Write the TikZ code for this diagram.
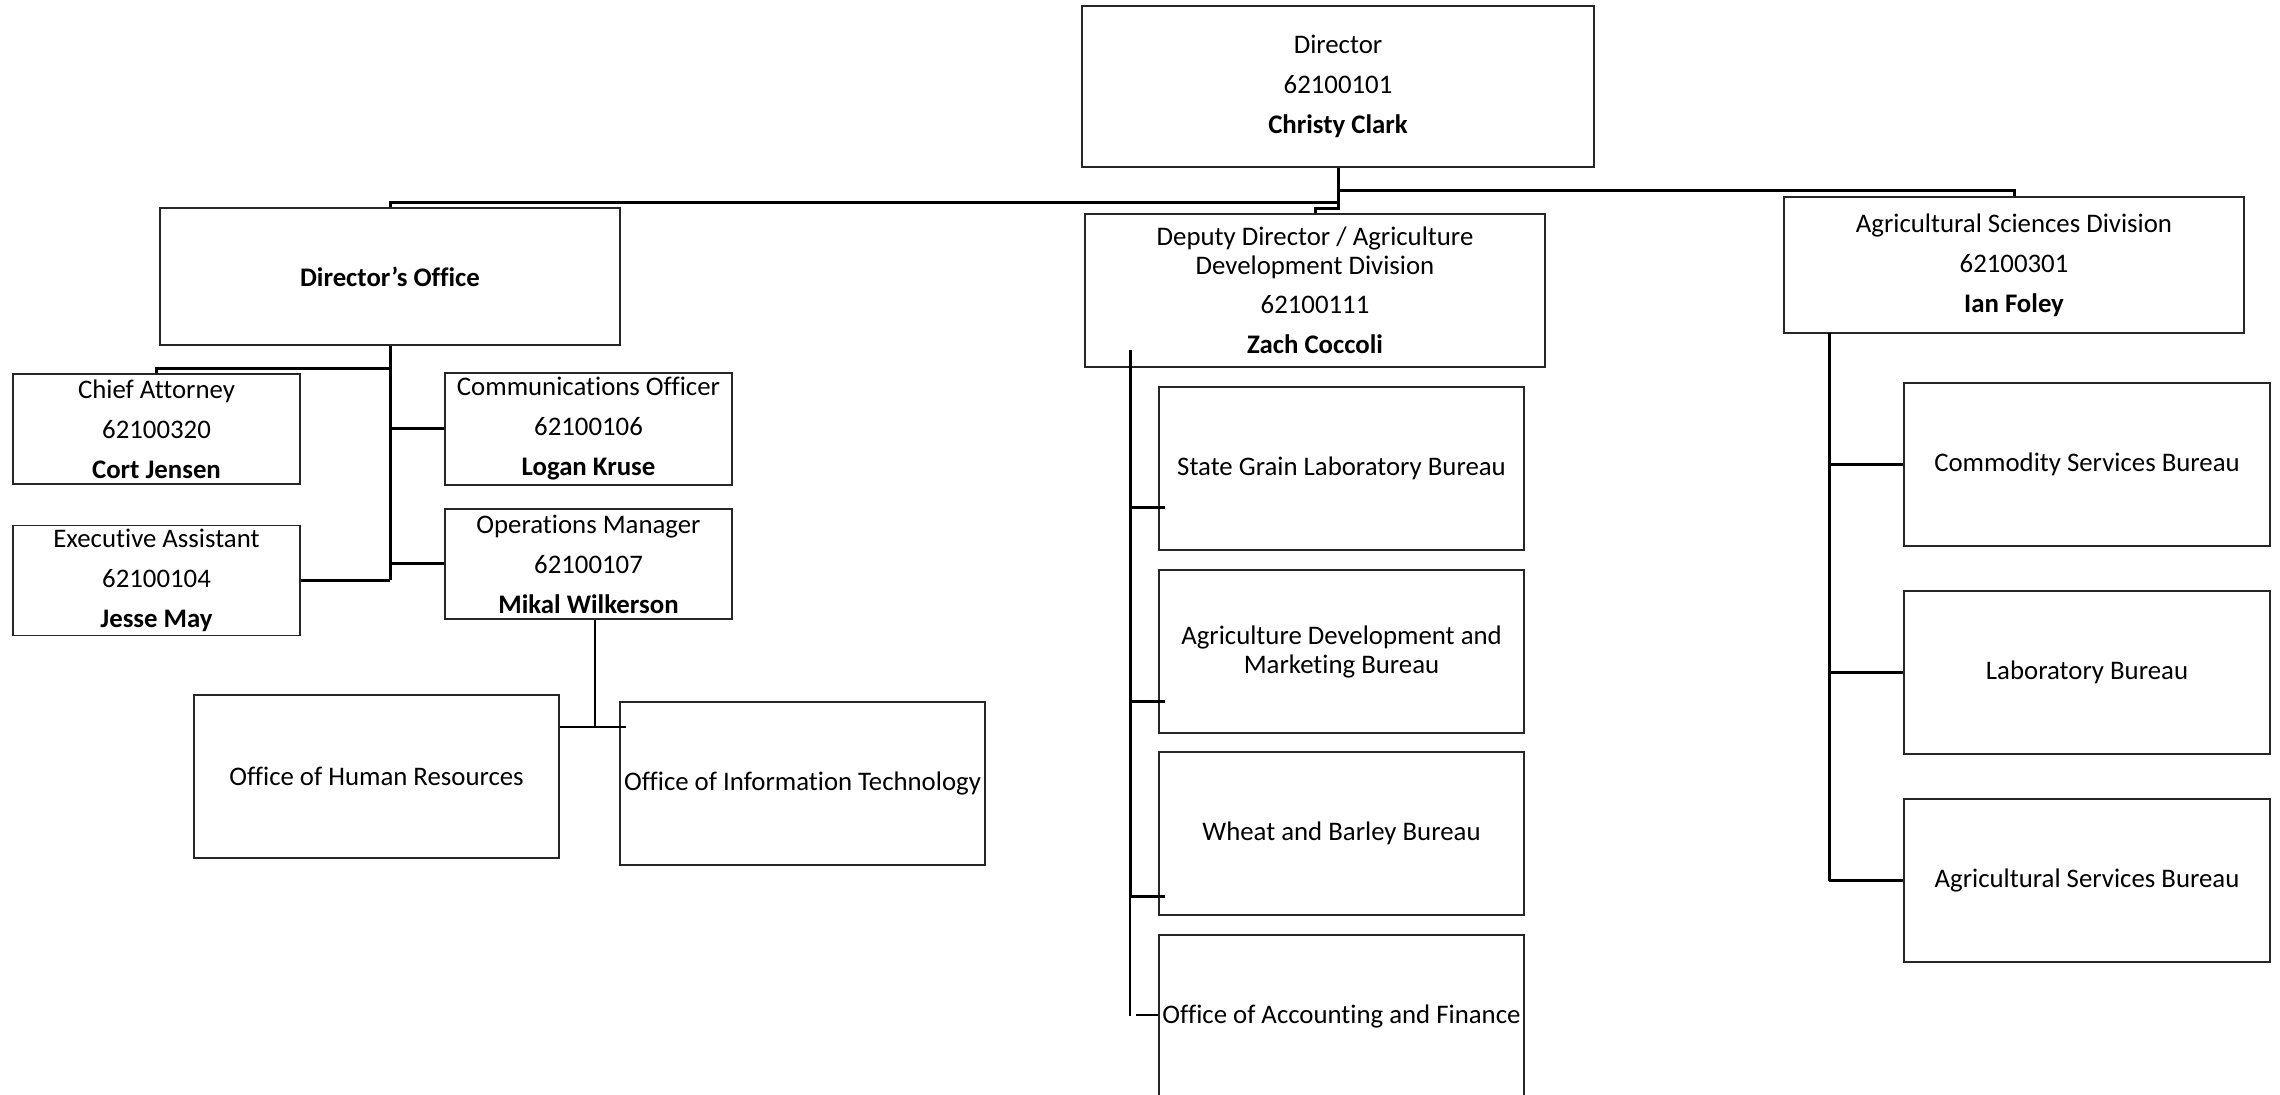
\documentclass[tikz,border=0pt]{standalone}
\usepackage{fontspec}
\setmainfont{Carlito}[Ligatures=NoCommon]
\usetikzlibrary{calc}
\begin{document}
\begin{tikzpicture}[x=0.5pt,y=-0.5pt,
 box/.style={draw=black!85, line width=0.8pt, inner sep=0pt, align=center, font=\fontsize{13.4}{14.5}\selectfont},
 small/.style={box, minimum width=143.5pt, minimum height=55pt},
 wide/.style={box, minimum width=230pt},
 bureau/.style={box, minimum width=182.5pt, minimum height=81.5pt},
 conn/.style={line width=1.5pt, black},
 thinconn/.style={line width=0.6pt, black}]
\useasboundingbox (0,0) rectangle (2280,1095);
% top level
\node[box, minimum width=256pt, minimum height=80.5pt] (dir) at (1338,86.5) {Director\\[5.5pt]62100101\\[5.5pt]\textbf{Christy Clark}};
\node[wide, minimum height=68.5pt] (doff) at (390,276.5) {\textbf{Director’s Office}};
\node[wide, minimum height=76.5pt] (dep) at (1315,290.5) {Deputy Director / Agriculture\\Development Division\\[5pt]62100111\\[5.5pt]\textbf{Zach Coccoli}};
\node[wide, minimum height=68pt] (asd) at (2014,265) {Agricultural Sciences Division\\[5.5pt]62100301\\[5.5pt]\textbf{Ian Foley}};
% director's office staff
\node[small] (ca) at (156.5,429) {Chief Attorney\\[5.5pt]62100320\\[5.5pt]\textbf{Cort Jensen}};
\node[small] (ea) at (156.5,580.5) {Executive Assistant\\[5.5pt]62100104\\[5.5pt]\textbf{Jesse May}};
\node[small, minimum height=56pt] (co) at (588.5,429) {Communications Officer\\[5.5pt]62100106\\[5.5pt]\textbf{Logan Kruse}};
\node[small] (om) at (588.5,564) {Operations Manager\\[5.5pt]62100107\\[5.5pt]\textbf{Mikal Wilkerson}};
\node[bureau] (hr) at (376.5,776.5) {Office of Human Resources};
\node[bureau] (it) at (802.5,783.5) {Office of Information Technology};
% deputy bureaus
\node[bureau] (sg) at (1341.5,468.5) {State Grain Laboratory Bureau};
\node[bureau] (adm) at (1341.5,651.5) {Agriculture Development and\\Marketing Bureau};
\node[bureau] (wb) at (1341.5,833.5) {Wheat and Barley Bureau};
\node[bureau] (oaf) at (1341.5,1016.5) {Office of Accounting and Finance};
% agricultural sciences bureaus
\node[bureau, minimum width=183pt] (csb) at (2087,464.5) {Commodity Services Bureau};
\node[bureau, minimum width=183pt] (lb) at (2087,672.5) {Laboratory Bureau};
\node[bureau, minimum width=183pt] (asb) at (2087,880.5) {Agricultural Services Bureau};

% connectors from director
\draw[conn] (dir.south) -- ++(0,35) -| (doff.north);
\draw[conn] (dir.south) -- ++(0,23) -| (asd.north);
\draw[conn] (dir.south) -- ++(0,41) -| (dep.north);

% director's office
\coordinate (dob) at (390,580.5);
\draw[conn] (doff.south) -- (dob);
\draw[conn] (doff.south) -- ++(0,23) -| (ca.north);
\draw[conn] (doff.south) |- (co.west);
\draw[conn] (doff.south) |- (om.west);
\draw[conn] (dob) -- (ea.east);

% operations manager
\coordinate (omj) at (595,727);
\draw[thinconn] (omj |- om.south) -- (omj);
\draw[thinconn] (hr.east |- omj) -- ($(it.west |- omj)+(7,0)$);

% deputy director
\coordinate (dtop) at (1130,350);
\coordinate (dmid) at (1130,896);
\coordinate (dbot) at (1130,1016);
\draw[conn] (dtop) -- (dmid);
\draw[thinconn] (dmid) -- (dbot);
\draw[conn] (1130,508) -- ($(sg.west |- 0,508)+(7,0)$);
\draw[conn] (1130,702) -- ($(adm.west |- 0,702)+(7,0)$);
\draw[conn] (dmid) -- ($(wb.west |- dmid)+(7,0)$);
\draw[thinconn] (1136,1015) -- (oaf.west |- 0,1015);

% agricultural sciences
\coordinate (atop) at (1829,333);
\coordinate (abot) at (1829,880.5);
\draw[conn] (atop) -- (abot);
\draw[conn] (atop |- csb.west) -- (csb.west);
\draw[conn] (atop |- lb.west) -- (lb.west);
\draw[conn] (abot) -- (asb.west);
\end{tikzpicture}
\end{document}
